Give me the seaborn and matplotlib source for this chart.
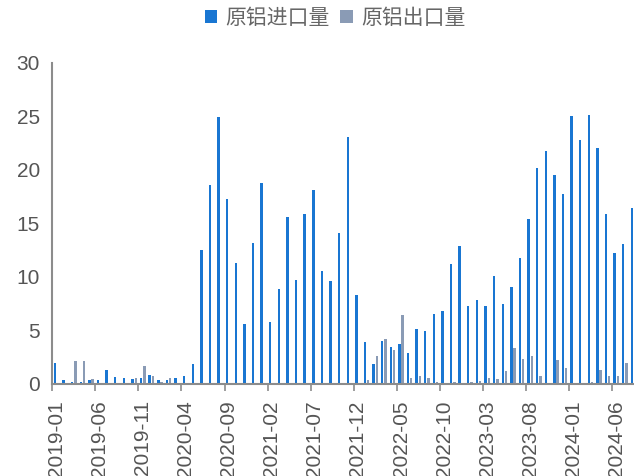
import numpy as np
import pandas as pd
import matplotlib
matplotlib.use("Agg")
import matplotlib.pyplot as plt
import seaborn as sns
from matplotlib.ticker import FixedLocator

# 月份 2019-01 ~ 2024-08
months = [d.strftime("%Y-%m") for d in pd.date_range("2019-01-01", "2024-08-01", freq="MS")]

imports = [
    1.9, 0.3, 0.1, 0.1, 0.3, 0.3, 1.25, 0.6, 0.5, 0.4, 0.5, 0.8,
    0.3, 0.3, 0.5, 0.7, 1.82, 12.5, 18.6, 24.9, 17.3, 11.26, 5.6, 13.14,
    18.8, 5.79, 8.8, 15.6, 9.65, 15.9, 18.1, 10.5, 9.56, 14.1, 23.05, 8.24,
    3.9, 1.82, 4.0, 3.43, 3.7, 2.86, 5.13, 4.94, 6.54, 6.82, 11.16, 12.86,
    7.3, 7.77, 7.3, 10.03, 7.48, 9.0, 11.73, 15.4, 20.2, 21.8, 19.56, 17.77,
    25.0, 22.77, 25.1, 22.0, 15.9, 12.2, 13.05, 16.45,
]
exports = [
    0.0, 0.0, 2.1, 2.1, 0.4, 0.0, 0.0, 0.0, 0.0, 0.5, 1.63, 0.7,
    0.1, 0.5, 0.0, 0.0, 0.0, 0.0, 0.0, 0.0, 0.0, 0.0, 0.0, 0.0,
    0.0, 0.0, 0.0, 0.0, 0.0, 0.0, 0.0, 0.0, 0.0, 0.0, 0.0, 0.0,
    0.31, 2.58, 4.18, 3.14, 6.45, 0.5, 0.69, 0.5, 0.13, 0.0, 0.13, 0.0,
    0.13, 0.2, 0.5, 0.4, 1.16, 3.33, 2.3, 2.58, 0.7, 0.0, 2.2, 1.45,
    0.0, 0.0, 0.13, 1.26, 0.7, 0.7, 1.92, 0.0,
]
series_names = ["原铝进口量", "原铝出口量"]
colors = ["#1976d2", "#8a9bb5"]
yticks = [0, 5, 10, 15, 20, 25, 30]

df = pd.DataFrame({
    "month": months * 2,
    "value": imports + exports,
    "series": [series_names[0]] * len(months) + [series_names[1]] * len(months),
})

sns.set_style("white")
plt.rcParams["font.family"] = ["Liberation Sans", "Noto Sans CJK SC", "DejaVu Sans"]

fig = plt.figure(figsize=(6.34, 4.76), dpi=100)
ax = fig.add_axes([52.3 / 634, 1 - 383.5 / 476, 585.5 / 634, 320.5 / 476])

sns.barplot(data=df, x="month", y="value", hue="series", hue_order=series_names,
            palette=colors, width=0.75, gap=0.25, saturation=1, linewidth=0,
            ax=ax)

h, l = ax.get_legend_handles_labels()
ax.get_legend().remove()

axis_c = "#8c8c8c"
for s in ["top", "right"]:
    ax.spines[s].set_visible(False)
for s in ["left", "bottom"]:
    ax.spines[s].set_color(axis_c)
    ax.spines[s].set_linewidth(1.5)

ax.set_ylim(0, 30)
ax.set_xlim(-0.5, len(months) - 0.5)
ax.set_yticks(yticks)
ax.tick_params(axis="y", length=4.5, width=1.2, color=axis_c, labelsize=15,
               labelcolor="#555555", pad=4.5)

idx = list(range(0, len(months), 5))
ax.set_xticks(idx)
ax.set_xticklabels([months[i] for i in idx], rotation=90)
ax.tick_params(axis="x", length=0, labelsize=15, labelcolor="#555555", pad=12)
ax.xaxis.set_minor_locator(FixedLocator([i - 0.5 for i in idx]))
ax.tick_params(axis="x", which="minor", length=5, width=1.2, color=axis_c, bottom=True)
ax.set_xlabel("")
ax.set_ylabel("")

fig.legend(h, l, loc="center", bbox_to_anchor=(335 / 634, 1 - 18 / 476), ncol=2,
           frameon=False, handlelength=0.6, handleheight=0.6,
           handletextpad=0.4, columnspacing=0.5, labelcolor="#666666",
           prop={"family": ["Noto Sans CJK SC"], "size": 15})

fig.savefig("out.png", dpi=100)
